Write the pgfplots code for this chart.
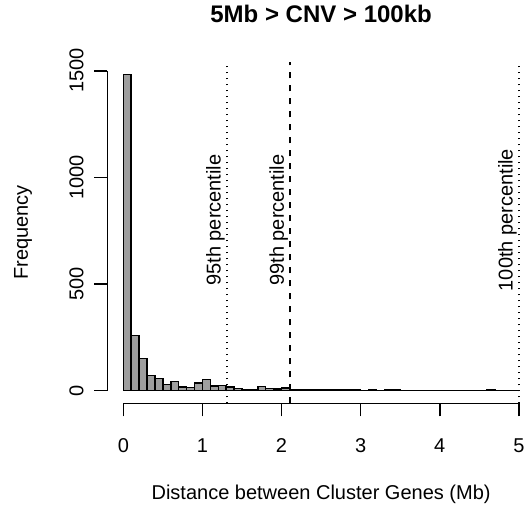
\documentclass[border=0pt]{standalone}
\usepackage{fontspec}
\setmainfont{Liberation Sans}
\usepackage{pgfplots}
\pgfplotsset{compat=1.18}

\definecolor{barfill}{RGB}{158,158,158}

\begin{document}
\begin{tikzpicture}
\begin{axis}[
  scale only axis,
  width=418.5bp, height=341.5bp,
  xmin=-0.2, xmax=5.09,
  ymin=-59.3, ymax=1542,
  clip=false,
  axis line style={draw=none},
  xtick={0,1,2,3,4,5},
  ytick={0,500,1000,1500},
  xtick pos=left, ytick pos=left,
  tick align=outside,
  major tick length=13bp,
  tick style={line width=1.5bp, black},
  /pgf/number format/assume math mode=true,
  /pgf/number format/set thousands separator={},
  ticklabel style={font=\fontsize{20bp}{24bp}\selectfont},
  xticklabel style={anchor=base, yshift=-36bp},
  yticklabel style={shift={(-11bp,0)}, rotate=90, anchor=base},
  title={5Mb > CNV > 100kb},
  title style={font=\fontsize{24bp}{29bp}\selectfont\bfseries,
    at={(axis description cs:0.5104,1)}, anchor=base, yshift=33.8bp},
  xlabel={Distance between Cluster Genes (Mb)},
  xlabel style={font=\fontsize{20bp}{24bp}\selectfont,
    at={(axis description cs:0.5104,0)}, anchor=base, yshift=-96.5bp},
  ylabel={Frequency},
  ylabel style={font=\fontsize{20bp}{24bp}\selectfont,
    at={(axis description cs:0,0.5)}, anchor=base, yshift=79.5bp},
]
% histogram of distances, bins of 0.1 Mb
\addplot[ybar interval, fill=barfill, draw=black, line width=1.5bp] table {
x y
0.0 1483
0.1 258
0.2 150
0.3 72
0.4 58
0.5 28
0.6 42
0.7 17
0.8 14
0.9 36
1.0 52
1.1 22
1.2 24
1.3 16
1.4 9
1.5 5
1.6 4
1.7 19
1.8 9
1.9 8
2.0 12
2.1 4
2.2 4
2.3 2
2.4 6
2.5 2
2.6 2
2.7 4
2.8 2
2.9 2
3.0 1
3.1 2
3.2 1
3.3 4
3.4 2
3.5 1
3.6 1
3.7 0
3.8 1
3.9 1
4.0 0
4.1 1
4.2 1
4.3 0
4.4 1
4.5 1
4.6 3
4.7 1
4.8 0
4.9 1
5.0 0
};
% axis lines spanning the tick range only
\draw[line width=1.5bp] (axis cs:0,-59.3) -- (axis cs:5,-59.3);
\draw[line width=1.5bp] (axis cs:-0.2,0) -- (axis cs:-0.2,1500);
% percentile markers
\addplot[black, line width=1.5bp, dash pattern=on 1.5bp off 4.5bp] coordinates {(1.31,-59.3) (1.31,1542)};
\addplot[black, line width=1.5bp, dash pattern=on 6.5bp off 6.5bp] coordinates {(2.11,-59.3) (2.11,1542)};
\addplot[black, line width=1.5bp, dash pattern=on 1.5bp off 4.5bp] coordinates {(5.0,-59.3) (5.0,1542)};
\node[font=\fontsize{20bp}{24bp}\selectfont, rotate=90, anchor=south, inner sep=2bp] at (axis cs:1.31,800) {95th percentile};
\node[font=\fontsize{20bp}{24bp}\selectfont, rotate=90, anchor=south, inner sep=2bp] at (axis cs:2.11,800) {99th percentile};
\node[font=\fontsize{20bp}{24bp}\selectfont, rotate=90, anchor=south, inner sep=2bp] at (axis cs:5.0,800) {100th percentile};
\coordinate (bl) at (rel axis cs:0,0);
\coordinate (tr) at (rel axis cs:1,1);
\end{axis}
\pgfresetboundingbox
\path ([shift={(-107.5bp,-105.7bp)}]bl) rectangle ([shift={(0bp,61.8bp)}]tr);
\end{tikzpicture}
\end{document}
